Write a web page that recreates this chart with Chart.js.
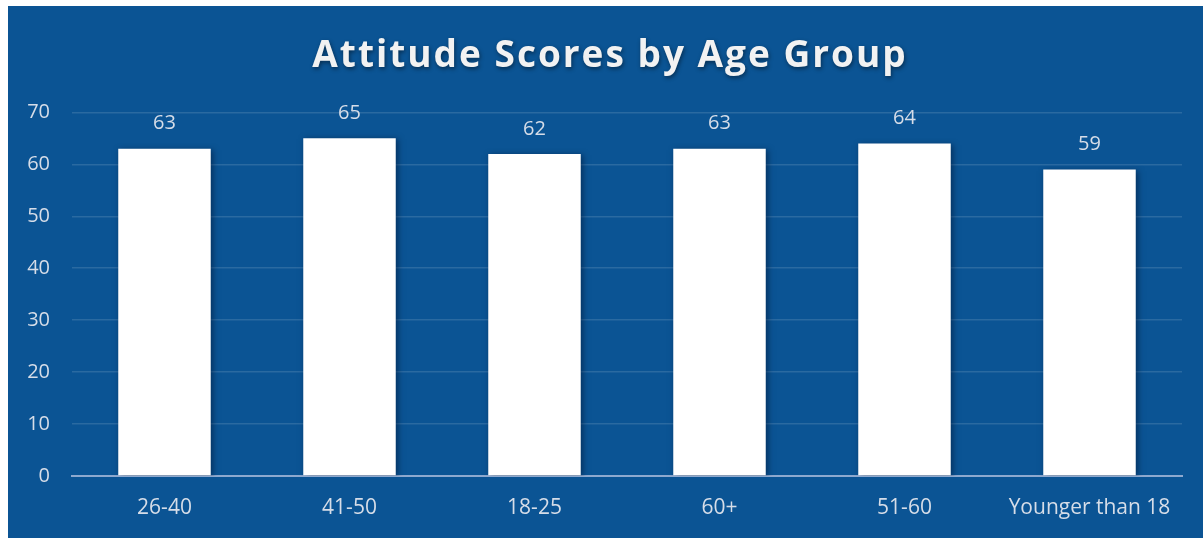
<!DOCTYPE html>
<html>
<head>
<meta charset="utf-8">
<script src="https://cdn.jsdelivr.net/npm/chart.js@4"></script>
<style>
  html, body { margin: 0; padding: 0; background: #ffffff; overflow: hidden; }
  #wrap { position: absolute; left: 8px; top: 6px; width: 1195px; height: 532px; background: #0B5494; box-shadow: 0 6px 0 #0B5494; }
</style>
</head>
<body>
<div id="wrap"><canvas id="ageChart"></canvas></div>
<script>
// Categories and values
var ageGroups = ['26-40', '41-50', '18-25', '60+', '51-60', 'Younger than 18'];
var attitudeScores = [63, 65, 62, 63, 64, 59];
var yTicks = [0, 10, 20, 30, 40, 50, 60, 70];

var labelColor = '#D6DDE8';
var fontFamily = '"Open Sans", sans-serif';

// draws the value above every bar, soft shadow behind bars
var barExtras = {
    id: 'barExtras',
    afterInit: function(chart) {
        // spaced-out title with a small drop shadow
        var tb = chart.titleBlock;
        if (!tb) return;
        var origDraw = tb.draw;
        tb.draw = function() {
            var c = chart.ctx;
            c.save();
            c.translate(15, 0);
            c.letterSpacing = '2px';
            c.shadowColor = 'rgba(0,0,0,0.45)';
            c.shadowBlur = 4;
            c.shadowOffsetX = 1;
            c.shadowOffsetY = 2;
            origDraw.apply(this, arguments);
            c.restore();
        };
    },
    beforeDatasetDraw: function(chart) {
        var c = chart.ctx;
        c.save();
        c.shadowColor = 'rgba(0,20,50,0.55)';
        c.shadowBlur = 6;
        c.shadowOffsetX = 2;
        c.shadowOffsetY = 1;
    },
    afterDatasetDraw: function(chart) {
        chart.ctx.restore();
    },
    afterDatasetsDraw: function(chart) {
        var c = chart.ctx;
        var meta = chart.getDatasetMeta(0);
        c.save();
        c.fillStyle = labelColor;
        c.font = '20px ' + fontFamily;
        c.textAlign = 'center';
        c.textBaseline = 'middle';
        meta.data.forEach(function(bar, i) {
            c.fillText(String(chart.data.datasets[0].data[i]), bar.x, bar.y - 25);
        });
        c.restore();
    }
};

var ageChart = new Chart(document.getElementById('ageChart'), {
    type: 'bar',
    data: {
        labels: ageGroups,
        datasets: [{
            label: 'Attitude score',
            data: attitudeScores,
            backgroundColor: '#FFFFFF',
            borderWidth: 0,
            barPercentage: 0.5,
            categoryPercentage: 1.0
        }]
    },
    options: {
        responsive: true,
        maintainAspectRatio: false,
        animation: false,
        layout: { padding: { top: 28, right: 21, bottom: 0, left: 0 } },
        plugins: {
            legend: { display: false },
            tooltip: { enabled: false },
            title: {
                display: true,
                text: 'Attitude Scores by Age Group',
                color: '#F2F2F2',
                font: { family: fontFamily, size: 37, weight: 'bold' },
                padding: { top: 0, bottom: 34 }
            }
        },
        scales: {
            x: {
                grid: { display: false, drawTicks: false },
                border: { display: true, color: '#8EA9CF', width: 2 },
                ticks: { color: labelColor, font: { family: fontFamily, size: 21 }, padding: 19 },
                afterFit: function(scale) { scale.height = 62; }
            },
            y: {
                min: 0,
                max: 70,
                afterBuildTicks: function(scale) {
                    scale.ticks = yTicks.map(function(v) { return { value: v }; });
                },
                grid: { color: 'rgba(255,255,255,0.13)', lineWidth: 1.5, drawTicks: false },
                border: { display: false },
                ticks: { color: labelColor, font: { family: fontFamily, size: 20 }, padding: 22 },
                afterFit: function(scale) { scale.width = 64; }
            }
        }
    },
    plugins: [barExtras]
});
</script>
</body>
</html>
